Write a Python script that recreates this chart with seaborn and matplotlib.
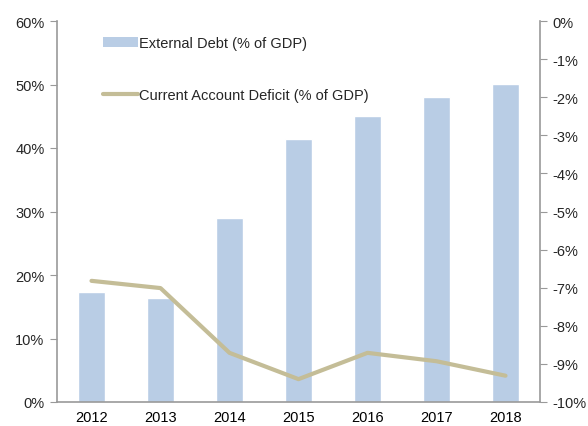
import matplotlib
matplotlib.use("Agg")
import matplotlib.pyplot as plt
import seaborn as sns
import pandas as pd
from matplotlib.patches import Patch
from matplotlib.lines import Line2D
from matplotlib.ticker import FuncFormatter, MultipleLocator

years = ["2012", "2013", "2014", "2015", "2016", "2017", "2018"]
external_debt = [17.3, 16.4, 29.0, 41.4, 45.1, 48.1, 50.1]
current_account = [-6.82, -7.01, -8.71, -9.4, -8.71, -8.93, -9.31]
debt_label = "External Debt (% of GDP)"
ca_label = "Current Account Deficit (% of GDP)"

sns.set_style("white")
plt.rcParams["font.family"] = ["Liberation Sans", "DejaVu Sans"]

bar_color = "#b9cde5"
line_color = "#c4bd97"
spine_color = "#999999"

df = pd.DataFrame({"year": years, "debt": external_debt,
                   "ca": current_account, "pos": range(len(years))})

fig = plt.figure(figsize=(5.88, 4.27), dpi=100)
ax = fig.add_axes([57/588, 1-403/427, (540-57)/588, (403-22)/427])

sns.barplot(data=df, x="year", y="debt", color=bar_color, width=0.4,
            saturation=1, ax=ax)
ax.set_xlim(-0.5, len(years)-0.5)
ax.set_ylim(0, 60)
ax.yaxis.set_major_locator(MultipleLocator(10))
ax.yaxis.set_major_formatter(FuncFormatter(lambda v, p: f"{v:.0f}%"))
ax.set_xlabel("")
ax.set_ylabel("")

ax2 = ax.twinx()
sns.lineplot(data=df, x="pos", y="ca", color=line_color, linewidth=3, ax=ax2)
ax2.set_ylim(-10, 0)
ax2.yaxis.set_major_locator(MultipleLocator(1))
ax2.yaxis.set_major_formatter(FuncFormatter(lambda v, p: f"{v:.0f}%"))
ax2.set_ylabel("")
ax2.set_xlabel("")
ax.set_xlim(-0.5, len(years)-0.5)

# x ticks at category boundaries
ax.set_xticks([i - 0.5 for i in range(len(years)+1)], minor=False)
ax.set_xticklabels([""] * (len(years)+1))
ax.set_xticks(range(len(years)), minor=True)
ax.set_xticklabels(years, minor=True)
ax.tick_params(axis="x", which="minor", length=0, labelsize=10.5, pad=6, colors="black")
ax.tick_params(axis="x", which="major", length=5, direction="out", color=spine_color)
ax.tick_params(axis="y", length=5, direction="out", color=spine_color, labelsize=10.5, pad=4)
ax2.tick_params(axis="y", length=5, direction="out", color=spine_color, labelsize=10.5, pad=4)
ax2.tick_params(axis="x", length=0)

for a in (ax, ax2):
    a.spines["top"].set_visible(False)
    for s in ("left", "right", "bottom"):
        a.spines[s].set_color(spine_color)
        a.spines[s].set_linewidth(1.2)
ax.spines["right"].set_visible(False)
ax2.spines["left"].set_visible(False)
ax2.spines["bottom"].set_visible(False)

handles = [Patch(facecolor=bar_color, edgecolor="none"),
           Line2D([0], [0], color=line_color, linewidth=3)]
ax2.legend(handles, [debt_label, ca_label], loc="upper left",
           bbox_to_anchor=(0.068, 0.995), frameon=False, fontsize=10.5,
           handlelength=2.4, handletextpad=0.1, labelspacing=2.6,
           handleheight=0.6)

fig.savefig("out.png", dpi=100)
